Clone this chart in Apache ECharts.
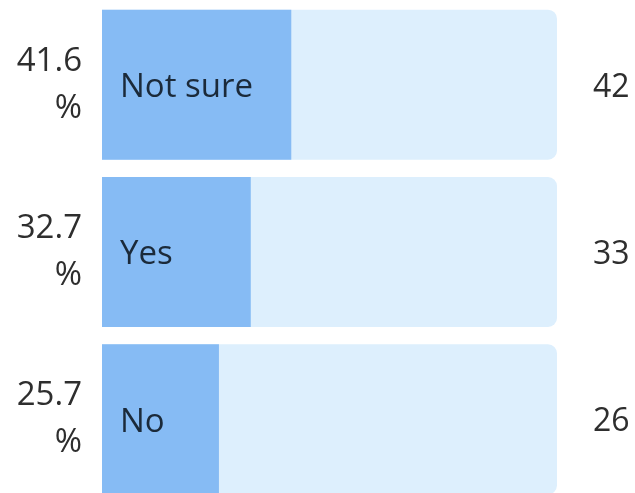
<!DOCTYPE html>
<html lang="en">
<head>
<meta charset="utf-8" />
<title>Poll</title>
<script src="https://cdn.jsdelivr.net/npm/echarts@6/dist/echarts.min.js"></script>
<style>
  html, body { margin: 0; padding: 0; background: #fff; }
  #main { width: 635px; height: 493px; }
</style>
</head>
<body>
<div id="main"></div>
<script type="text/javascript">
// poll answers, top to bottom
var answers = ['Not sure', 'Yes', 'No'];
var percents = [41.6, 32.7, 25.7];
var votes = [42, 33, 26];
var full = [100, 100, 100];

var chart = echarts.init(document.getElementById('main'));

var option = {
    animation: false,
    textStyle: { fontFamily: 'Open Sans' },
    grid: { left: 102, top: 1, width: 455, height: 502, outerBoundsMode: 'none', containLabel: false },
    xAxis: {
        type: 'value',
        min: 0,
        max: 100,
        show: false
    },
    yAxis: {
        type: 'category',
        data: answers,
        inverse: true,
        axisLine: { show: false },
        axisTick: { show: false },
        axisLabel: {
            margin: 20,
            fontSize: 33,
            lineHeight: 47,
            padding: [6, 0, 0, 0],
            color: '#2e2e2e',
            formatter: function (v, i) { return percents[i] + '\n%'; }
        }
    },
    series: [
        {
            // light track behind each answer
            type: 'bar',
            data: full,
            barWidth: 150,
            silent: true,
            itemStyle: { color: '#ddeffd', borderRadius: [0, 9, 9, 0] },
            label: {
                show: true,
                position: 'right',
                distance: 36,
                offset: [0, 3],
                fontSize: 32,
                color: '#2e2e2e',
                formatter: function (p) { return votes[p.dataIndex]; }
            }
        },
        {
            type: 'bar',
            data: percents,
            barWidth: 150,
            barGap: '-100%',
            itemStyle: { color: '#86bbf4' },
            label: {
                show: true,
                position: 'insideLeft',
                distance: 18,
                offset: [0, 3],
                fontSize: 33,
                color: '#1b2a3a',
                formatter: function (p) { return answers[p.dataIndex]; }
            }
        }
    ]
};

chart.setOption(option);
</script>
</body>
</html>
